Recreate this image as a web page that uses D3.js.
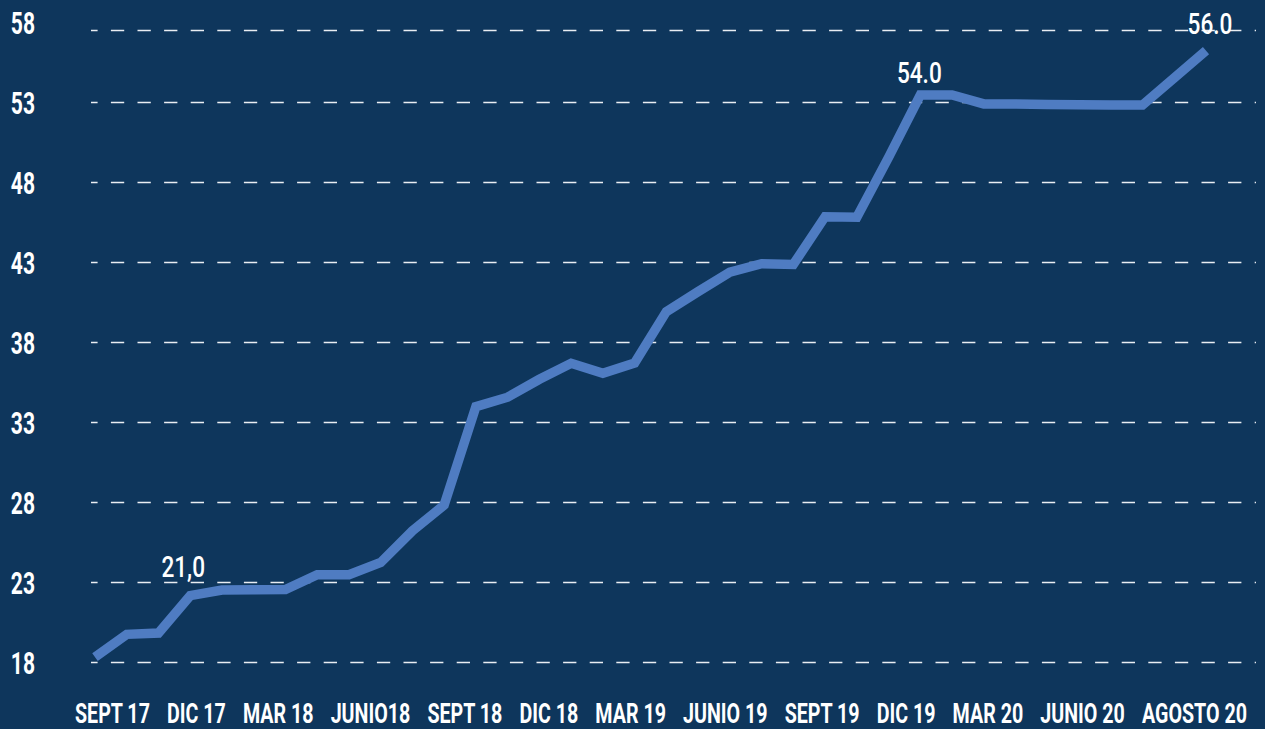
<!DOCTYPE html>
<html>
<head>
<meta charset="utf-8">
<script src="https://cdn.jsdelivr.net/npm/d3@7"></script>
<style>
  html, body { margin: 0; padding: 0; background: #0e365c; }
  svg { display: block; }
  text { font-family: Roboto, "Liberation Sans", sans-serif; fill: #ffffff; }
</style>
</head>
<body>
<svg id="chart" width="1265" height="729"></svg>
<script>
// ---------------- DATA ----------------
const months = [
  "2017-09","2017-10","2017-11","2017-12","2018-01","2018-02","2018-03","2018-04","2018-05",
  "2018-06","2018-07","2018-08","2018-09","2018-10","2018-11","2018-12","2019-01","2019-02",
  "2019-03","2019-04","2019-05","2019-06","2019-07","2019-08","2019-09","2019-10","2019-11",
  "2019-12","2020-01","2020-02","2020-03","2020-04","2020-05","2020-06","2020-07","2020-08"
];
const values = [
  18.34, 19.76, 19.84, 22.18, 22.53, 22.55, 22.56, 23.49, 23.49,
  24.25, 26.23, 27.84, 33.99, 34.58, 35.70, 36.70, 36.08, 36.72,
  39.93, 41.18, 42.40, 42.92, 42.88, 45.86, 45.83, 49.57, 53.47,
  53.47, 52.91, 52.90, 52.88, 52.86, 52.85, 52.84, 54.54, 56.24
];
const xLabels = ["SEPT 17","DIC 17","MAR 18","JUNIO18","SEPT 18","DIC 18","MAR 19",
                 "JUNIO 19","SEPT 19","DIC 19","MAR 20","JUNIO 20","AGOSTO 20"];
const yTickLabels = [18, 23, 28, 33, 38, 43, 48, 53, 58];
const gridValues = [18, 23, 28, 33, 38, 43, 48, 53, 57.5];
const yDomain = [18, 57.5];
const annMonths = ["2017-12", "2019-11", "2020-08"];
const annTexts = ["21,0", "54.0", "56.0"];

// ---------------- LAYOUT ----------------
const svg = d3.select("#chart");
const W = 1265, H = 729;
svg.append("rect").attr("width", W).attr("height", H).attr("fill", "#0e365c");

const x = d3.scalePoint().domain(months).range([95, 1206]);
const y = d3.scaleLinear().domain(yDomain).range([662.5, 30.5]);

// place a text horizontally condensed by factor k at (px, py)
function place(sel, k, px, py) {
  sel.attr("x", 0).attr("y", 0)
     .attr("transform", `translate(${px},${py}) scale(${k},1)`);
}

// gridlines
svg.append("g").selectAll("line").data(gridValues).join("line")
  .attr("x1", 91).attr("x2", 1256)
  .attr("y1", d => y(d)).attr("y2", d => y(d))
  .attr("stroke", "#e9edf2").attr("stroke-width", 1.6)
  .attr("stroke-dasharray", "13.3 13.3").attr("stroke-dashoffset", 6.7);

// y labels
svg.append("g").selectAll("text").data(yTickLabels).join("text")
  .attr("text-anchor", "end")
  .style("font-size", "31px").style("font-weight", 700)
  .text(d => d)
  .each(function (d) { place(d3.select(this), 0.68, 35, y(d) + 11); });

// line
const line = d3.line().x((d, i) => x(months[i])).y(d => y(d));
svg.append("path").datum(values)
  .attr("d", line)
  .attr("fill", "none")
  .attr("stroke", "#4f7cc2")
  .attr("stroke-width", 9.5)
  .attr("stroke-linejoin", "miter")
  .attr("stroke-linecap", "butt");

// annotations
const annNudge = [[-7, -19], [-1, -12], [4, -17]];
annTexts.forEach((t, i) => {
  const idx = months.indexOf(annMonths[i]);
  const tx = svg.append("text")
    .attr("text-anchor", "middle")
    .style("font-size", "29px").style("font-weight", 500)
    .text(t);
  place(tx, 0.78, x(annMonths[i]) + annNudge[i][0], y(values[idx]) + annNudge[i][1]);
});

// x labels: flowed row between 75 and 1247
const kx = 0.69;
const xl = svg.append("g").selectAll("text").data(xLabels).join("text")
  .attr("text-anchor", "start")
  .style("font-size", "28.5px").style("font-weight", 700)
  .text(d => d);
const widths = [];
xl.each(function () { widths.push(this.getComputedTextLength() * kx); });
const left = 75, right = 1247;
const gap = (right - left - d3.sum(widths)) / (xLabels.length - 1);
let cx = left;
xl.each(function (d, i) { place(d3.select(this), kx, cx, 723); cx += widths[i] + gap; });
</script>
</body>
</html>
